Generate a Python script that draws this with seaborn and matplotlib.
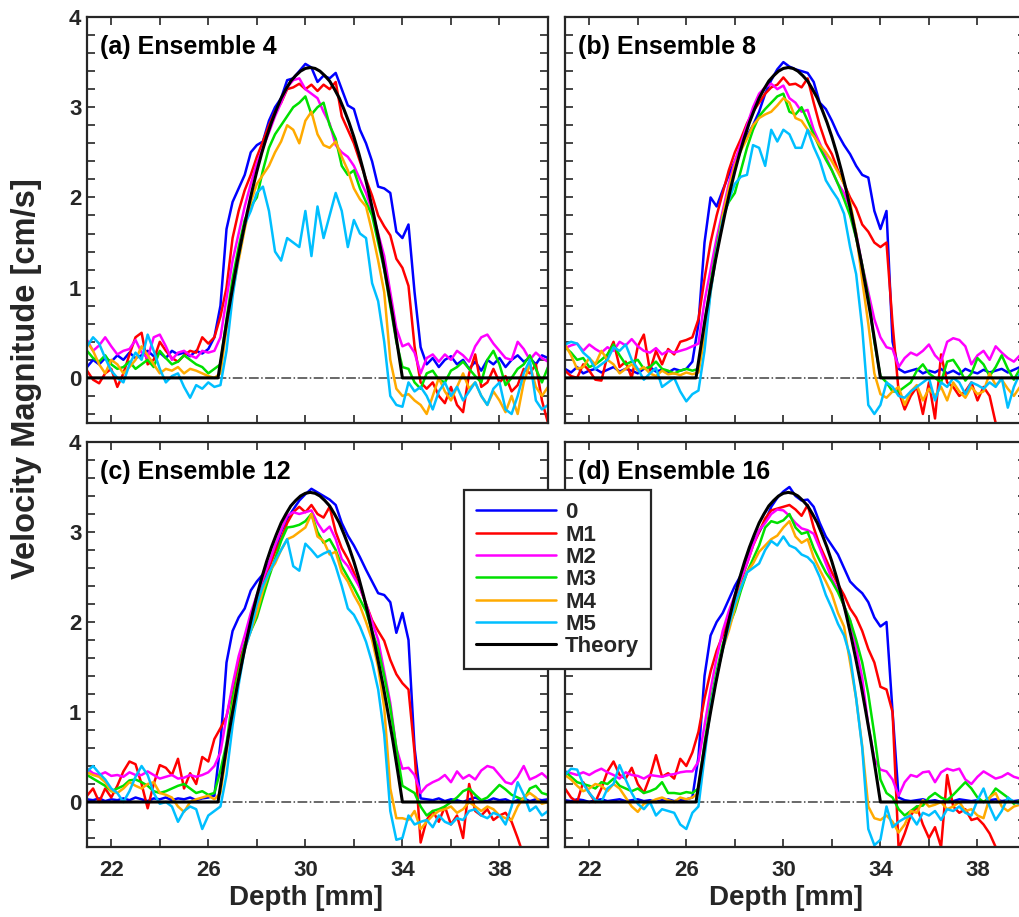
import matplotlib
matplotlib.use("Agg")
import matplotlib.pyplot as plt
from matplotlib.lines import Line2D
from matplotlib.ticker import FixedLocator, MultipleLocator
import numpy as np
import pandas as pd
import seaborn as sns

# ---------------- data ----------------
depth = [21.0, 21.25, 21.5, 21.75, 22.0, 22.25, 22.5, 22.75, 23.0, 23.25, 23.5, 23.75,
         24.0, 24.25, 24.5, 24.75, 25.0, 25.25, 25.5, 25.75, 26.0,
         26.25, 26.5, 26.75, 27.0, 27.25, 27.5, 27.75, 28.0, 28.25, 28.5, 28.75, 29.0,
         29.25, 29.5, 29.75, 30.0, 30.25, 30.5, 30.75, 31.0, 31.25, 31.5, 31.75, 32.0,
         32.25, 32.5, 32.75, 33.0, 33.25, 33.5, 33.75, 34.0,
         34.25, 34.5, 34.75, 35.0, 35.25, 35.5, 35.75, 36.0, 36.25, 36.5, 36.75, 37.0,
         37.25, 37.5, 37.75, 38.0, 38.25, 38.5, 38.75, 39.0, 39.25, 39.5, 39.75, 40.0]

theory_depth = [21.0, 26.4, 26.6, 26.8, 27.0, 27.2, 27.4, 27.6, 27.8, 28.0, 28.2, 28.4, 28.6,
                28.8, 29.0, 29.2, 29.4, 29.6, 29.8, 30.0, 30.2, 30.4, 30.6, 30.8, 31.0, 31.2,
                31.4, 31.6, 31.8, 32.0, 32.2, 32.4, 32.6, 32.8, 33.0, 33.2, 33.4, 33.6, 33.8,
                34.0, 40.0]
theory_vel = [0.0, 0.0, 0.35, 0.69, 1.00, 1.30, 1.57, 1.83, 2.07, 2.29, 2.49, 2.67, 2.83,
              2.97, 3.10, 3.20, 3.29, 3.35, 3.40, 3.43, 3.44, 3.43, 3.40, 3.35, 3.29, 3.20,
              3.10, 2.97, 2.83, 2.67, 2.49, 2.29, 2.07, 1.83, 1.57, 1.30, 1.00, 0.69, 0.35,
              0.0, 0.0]

methods = ["0", "M1", "M2", "M3", "M4", "M5"]
colors = ["#0000FF", "#FF0000", "#FF00FF", "#00E000", "#FFAA00", "#00BFFF"]
titles = ["(a) Ensemble 4", "(b) Ensemble 8", "(c) Ensemble 12", "(d) Ensemble 16"]

# ---- Ensemble 4 ----
A_0 = [0.12, 0.20, 0.15, 0.22, 0.18, 0.25, 0.20, 0.28, 0.22, 0.25, 0.30, 0.24, 0.28, 0.22, 0.30, 0.26, 0.28, 0.24, 0.30, 0.27, 0.32,
       0.45, 0.80, 1.65, 1.95, 2.10, 2.25, 2.50, 2.58, 2.62, 2.85, 3.00, 3.10, 3.30, 3.32, 3.40, 3.48, 3.44, 3.28, 3.35, 3.32,
       3.38, 3.20, 3.02, 2.98, 2.75, 2.60, 2.40, 2.12, 2.10, 2.05, 1.62, 1.55,
       1.70, 0.95, 0.34, 0.15, 0.22, 0.12, 0.20, 0.24, 0.15, 0.20, 0.10, 0.18, 0.08, 0.20, 0.15, 0.22, 0.12, 0.20, 0.25, 0.18, 0.22, 0.15, 0.25, 0.22]
A_M1 = [0.08, -0.02, -0.06, 0.05, 0.10, -0.10, 0.05, 0.26, 0.45, 0.50, 0.15, 0.20, 0.40, 0.30, 0.22, 0.18, 0.25, 0.30, 0.28, 0.45, 0.38,
        0.45, 0.68, 1.00, 1.55, 1.85, 2.08, 2.25, 2.45, 2.62, 2.80, 2.95, 3.05, 3.20, 3.22, 3.26, 3.20, 3.25, 3.18, 3.25, 3.20,
        3.28, 2.90, 2.75, 2.60, 2.40, 2.20, 2.02, 1.80, 1.68, 1.58, 1.32, 1.22,
        1.02, 0.35, -0.05, -0.12, -0.05, -0.20, -0.28, -0.10, -0.30, -0.38, 0.05, 0.26, -0.10, -0.05, 0.10, -0.05, 0.02, -0.15, -0.08, 0.10, 0.05, 0.15, -0.25, -0.50]
A_M2 = [0.42, 0.30, 0.36, 0.45, 0.35, 0.26, 0.30, 0.32, 0.42, 0.28, 0.22, 0.45, 0.48, 0.35, 0.20, 0.28, 0.30, 0.25, 0.22, 0.30, 0.28,
        0.30, 0.45, 0.88, 1.30, 1.60, 1.90, 2.15, 2.38, 2.55, 2.72, 2.90, 3.05, 3.22, 3.30, 3.32, 3.20, 3.15, 3.10, 2.95, 2.82,
        2.58, 2.50, 2.45, 2.35, 2.20, 2.05, 1.85, 1.60, 1.35, 0.95, 0.55, 0.35,
        0.38, 0.28, 0.05, 0.22, 0.26, 0.18, 0.26, 0.20, 0.30, 0.25, 0.18, 0.35, 0.45, 0.48, 0.38, 0.30, 0.22, 0.20, 0.40, 0.32, 0.20, 0.28, 0.22, 0.18]
A_M3 = [0.30, 0.22, 0.18, 0.25, 0.15, 0.10, 0.12, 0.18, 0.10, 0.15, 0.20, 0.12, 0.30, 0.22, 0.15, 0.18, 0.25, 0.20, 0.15, 0.12, 0.05,
        0.10, 0.15, 0.65, 1.10, 1.45, 1.75, 1.90, 2.00, 2.30, 2.55, 2.70, 2.80, 2.90, 3.00, 3.05, 3.12, 2.92, 3.00, 3.05, 2.80,
        2.65, 2.35, 2.25, 2.30, 2.10, 1.95, 1.80, 1.50, 1.20, 0.80, 0.40, 0.12,
        0.10, -0.05, -0.12, 0.05, 0.08, -0.02, -0.05, 0.08, 0.12, 0.18, 0.10, 0.02, -0.05, 0.20, 0.30, 0.15, -0.08, 0.00, 0.10, 0.15, 0.25, 0.10, -0.05, 0.12]
A_M4 = [0.40, 0.30, 0.15, 0.05, 0.20, 0.15, 0.05, 0.12, 0.20, 0.35, 0.25, 0.15, 0.05, 0.10, 0.08, 0.12, 0.05, 0.10, 0.08, 0.05, 0.02,
        0.00, 0.05, 0.55, 0.95, 1.30, 1.65, 1.95, 2.15, 2.25, 2.35, 2.50, 2.62, 2.80, 2.75, 2.60, 2.85, 2.95, 2.70, 2.58, 2.55,
        2.62, 2.45, 2.30, 2.10, 1.98, 1.90, 1.62, 1.30, 0.95, 0.20, -0.12, -0.20,
        -0.18, -0.25, -0.30, -0.40, -0.20, 0.00, -0.15, -0.25, -0.10, 0.05, -0.12, -0.05, -0.20, -0.30, -0.15, -0.25, -0.38, -0.20, -0.40, -0.05, 0.15, -0.10, -0.20, -0.10]
A_M5 = [0.35, 0.45, 0.38, 0.22, 0.08, 0.00, -0.05, 0.15, 0.28, 0.20, 0.48, 0.30, 0.10, -0.05, 0.02, 0.05, -0.10, -0.22, -0.08, -0.12, -0.05,
        -0.10, -0.08, 0.30, 0.90, 1.35, 1.70, 1.85, 2.05, 2.12, 1.85, 1.40, 1.30, 1.55, 1.50, 1.45, 1.85, 1.35, 1.90, 1.55, 1.80,
        2.05, 1.85, 1.45, 1.75, 1.60, 1.55, 1.05, 0.85, 0.40, -0.20, -0.30, -0.32,
        -0.05, -0.15, -0.10, -0.20, -0.35, -0.15, -0.05, -0.20, -0.10, -0.25, -0.15, -0.05, -0.20, -0.30, -0.12, -0.05, -0.35, -0.40, -0.20, 0.05, 0.20, -0.25, -0.35, -0.30]

# ---- Ensemble 8 ----
B_0 = [0.10, 0.06, 0.12, 0.05, 0.08, 0.10, 0.06, 0.09, 0.12, 0.07, 0.10, 0.08, 0.05, 0.10, 0.12, 0.07, 0.09, 0.06, 0.10, 0.08, 0.10,
       0.18, 0.60, 1.50, 2.00, 1.90, 2.08, 2.25, 2.40, 2.56, 2.68, 2.80, 2.95, 3.15, 3.30, 3.42, 3.50, 3.45, 3.42, 3.40, 3.38,
       3.28, 3.05, 2.98, 2.85, 2.70, 2.58, 2.48, 2.35, 2.25, 2.22, 1.85, 1.65,
       1.85, 0.40, 0.10, 0.06, 0.08, 0.10, 0.05, 0.08, 0.06, 0.10, 0.05, 0.08, 0.04, 0.10, 0.07, 0.05, 0.09, 0.06, 0.08, 0.10, 0.06, 0.09, 0.12, 0.08]
B_M1 = [0.08, 0.02, 0.00, 0.15, 0.08, -0.02, -0.03, 0.25, 0.40, 0.12, 0.18, 0.00, 0.35, 0.48, 0.08, 0.30, 0.15, 0.32, 0.26, 0.40, 0.42,
        0.45, 0.65, 1.10, 1.50, 1.80, 2.05, 2.30, 2.50, 2.65, 2.82, 2.95, 3.05, 3.15, 3.22, 3.25, 3.33, 3.25, 3.26, 3.22, 3.32,
        3.05, 2.80, 2.60, 2.48, 2.30, 2.15, 2.00, 1.88, 1.70, 1.62, 1.50, 1.45,
        1.50, 0.60, -0.15, -0.35, -0.20, -0.10, -0.40, -0.05, -0.45, 0.26, -0.05, -0.10, -0.20, -0.15, -0.05, -0.25, -0.10, -0.20, -0.50, -0.55, -0.60, -0.60, -0.60, -0.60]
B_M2 = [0.33, 0.36, 0.38, 0.30, 0.37, 0.32, 0.28, 0.34, 0.30, 0.40, 0.36, 0.43, 0.35, 0.30, 0.28, 0.33, 0.26, 0.30, 0.28, 0.30, 0.32,
        0.35, 0.38, 0.85, 1.20, 1.55, 1.85, 2.15, 2.40, 2.60, 2.80, 3.00, 3.15, 3.22, 3.26, 3.20, 3.24, 3.10, 3.05, 2.95, 2.97,
        2.75, 2.60, 2.45, 2.30, 2.15, 2.05, 1.88, 1.60, 1.25, 0.95, 0.65, 0.45,
        0.34, 0.32, 0.12, 0.22, 0.28, 0.25, 0.30, 0.37, 0.25, 0.18, 0.40, 0.44, 0.42, 0.35, 0.15, 0.25, 0.30, 0.20, 0.35, 0.28, 0.22, 0.18, 0.25, 0.22]
B_M3 = [0.34, 0.28, 0.20, 0.22, 0.12, 0.15, 0.20, 0.26, 0.37, 0.25, 0.15, 0.18, 0.20, 0.10, 0.12, 0.18, 0.10, 0.08, 0.05, 0.08, 0.10,
        0.08, 0.10, 0.60, 1.05, 1.45, 1.80, 1.95, 2.05, 2.30, 2.55, 2.75, 2.90, 2.98, 3.05, 3.12, 3.15, 2.95, 2.92, 3.00, 2.85,
        2.70, 2.55, 2.42, 2.30, 2.15, 1.98, 1.80, 1.55, 1.25, 0.90, 0.40, 0.02,
        -0.05, -0.15, -0.15, -0.10, -0.05, 0.08, 0.15, 0.05, 0.00, -0.05, 0.18, 0.20, 0.10, -0.03, 0.05, 0.22, 0.15, 0.02, 0.12, 0.25, 0.10, -0.02, 0.10, 0.15]
B_M4 = [0.37, 0.25, 0.10, 0.12, 0.22, 0.15, 0.30, 0.20, 0.15, 0.05, 0.10, 0.15, 0.08, 0.12, 0.05, 0.02, 0.08, 0.04, 0.05, 0.03, 0.06,
        0.04, 0.06, 0.45, 0.95, 1.40, 1.80, 2.10, 2.35, 2.52, 2.65, 2.80, 2.88, 2.92, 2.95, 3.02, 3.10, 3.05, 2.88, 2.85, 2.75,
        2.68, 2.58, 2.50, 2.40, 2.28, 2.15, 1.95, 1.60, 1.08, 0.60, 0.05, -0.18,
        -0.22, -0.15, -0.10, -0.30, -0.15, -0.08, -0.25, -0.12, -0.20, -0.10, -0.25, -0.05, -0.15, -0.22, -0.10, -0.18, -0.15, 0.05, -0.08, -0.02, -0.12, -0.20, -0.10, 0.00]
B_M5 = [0.37, 0.40, 0.38, 0.28, 0.22, 0.10, 0.15, 0.20, 0.34, 0.30, 0.37, 0.20, 0.10, -0.02, 0.05, 0.11, -0.10, -0.05, 0.00, -0.15, -0.26,
        -0.18, -0.14, 0.30, 0.95, 1.40, 1.75, 1.97, 2.15, 2.23, 2.25, 2.58, 2.55, 2.35, 2.75, 2.62, 2.75, 2.70, 2.55, 2.55, 2.75,
        2.56, 2.41, 2.19, 2.08, 1.98, 1.82, 1.45, 1.15, 0.55, -0.30, -0.40, -0.30,
        -0.05, -0.10, -0.20, -0.22, -0.15, -0.10, -0.05, 0.00, -0.25, -0.05, -0.10, 0.00, -0.05, -0.18, -0.05, -0.08, -0.12, -0.05, -0.10, 0.00, -0.33, -0.10, 0.05, -0.05]

# ---- Ensemble 12 ----
C_0 = [0.03, 0.02, 0.04, 0.01, 0.03, 0.02, 0.04, 0.02, 0.05, 0.03, 0.01, 0.04, 0.03, 0.05, 0.02, 0.04, 0.03, 0.05, 0.02, 0.04, 0.05,
       0.07, 0.65, 1.55, 1.90, 2.05, 2.15, 2.35, 2.45, 2.53, 2.65, 2.80, 3.00, 3.15, 3.25, 3.35, 3.42, 3.48, 3.44, 3.40, 3.36,
       3.30, 3.10, 2.96, 2.85, 2.72, 2.58, 2.45, 2.32, 2.30, 2.22, 1.88, 2.10,
       1.80, 0.60, 0.04, 0.03, 0.02, 0.04, 0.01, 0.03, 0.02, 0.00, 0.03, 0.05, 0.02, 0.01, 0.04, 0.02, 0.03, 0.00, 0.02, 0.04, 0.01, 0.03, 0.02, 0.03]
C_M1 = [0.07, 0.15, 0.00, 0.15, 0.05, 0.18, 0.34, 0.45, 0.42, 0.20, -0.07, 0.20, 0.41, 0.38, 0.30, 0.48, 0.15, 0.32, 0.20, 0.50, 0.45,
        0.70, 0.82, 0.95, 1.25, 1.55, 1.75, 2.00, 2.20, 2.42, 2.60, 2.78, 2.92, 3.10, 3.22, 3.28, 3.22, 3.30, 3.20, 3.16, 3.28,
        3.00, 2.82, 2.70, 2.55, 2.38, 2.20, 2.02, 1.90, 1.79, 1.58, 1.42, 1.32,
        1.25, 0.55, -0.45, -0.20, -0.10, -0.22, -0.05, -0.25, -0.15, -0.40, 0.20, -0.10, -0.15, -0.08, -0.20, -0.15, -0.12, -0.22, -0.40, -0.60, -0.60, -0.60, -0.60, -0.60]
C_M2 = [0.37, 0.32, 0.30, 0.33, 0.29, 0.30, 0.28, 0.33, 0.30, 0.30, 0.34, 0.30, 0.26, 0.28, 0.30, 0.26, 0.27, 0.30, 0.28, 0.30, 0.33,
        0.40, 0.55, 0.95, 1.30, 1.62, 1.85, 2.10, 2.30, 2.48, 2.65, 2.85, 3.02, 3.18, 3.22, 3.20, 3.22, 3.24, 3.10, 3.00, 3.06,
        2.92, 2.70, 2.62, 2.50, 2.38, 2.20, 2.00, 1.80, 1.45, 1.10, 0.60, 0.37,
        0.38, 0.30, 0.10, 0.18, 0.22, 0.25, 0.30, 0.22, 0.34, 0.26, 0.30, 0.25, 0.35, 0.40, 0.38, 0.30, 0.22, 0.20, 0.28, 0.40, 0.25, 0.28, 0.32, 0.26]
C_M3 = [0.30, 0.26, 0.22, 0.18, 0.12, 0.15, 0.18, 0.24, 0.25, 0.22, 0.18, 0.12, 0.10, 0.12, 0.15, 0.18, 0.20, 0.15, 0.10, 0.12, 0.08,
        0.10, 0.35, 0.65, 1.15, 1.45, 1.75, 1.90, 2.05, 2.28, 2.50, 2.70, 2.90, 3.05, 3.06, 3.08, 3.12, 3.20, 3.00, 2.88, 2.92,
        2.80, 2.62, 2.50, 2.38, 2.25, 2.12, 1.90, 1.70, 1.40, 1.05, 0.60, 0.18,
        0.14, 0.10, -0.05, -0.15, -0.10, -0.08, -0.05, 0.00, 0.05, 0.12, 0.15, 0.08, 0.02, 0.05, 0.12, 0.19, 0.14, 0.08, 0.05, 0.02, 0.15, 0.18, 0.10, 0.08]
C_M4 = [0.33, 0.30, 0.28, 0.22, 0.12, 0.10, 0.15, 0.22, 0.18, 0.15, 0.20, 0.22, 0.10, 0.08, 0.05, -0.05, -0.11, 0.00, 0.03, 0.05, 0.07,
        0.03, 0.10, 0.55, 1.05, 1.40, 1.70, 1.90, 2.10, 2.35, 2.55, 2.65, 2.80, 2.92, 2.95, 3.00, 3.05, 3.20, 2.95, 2.90, 2.75,
        2.78, 2.55, 2.45, 2.30, 2.18, 2.00, 1.80, 1.50, 1.05, 0.15, -0.18, -0.18,
        -0.20, -0.10, -0.30, -0.22, -0.15, -0.10, -0.08, -0.05, -0.12, -0.08, 0.00, -0.05, -0.10, -0.05, -0.08, -0.15, -0.18, -0.20, -0.05, 0.05, 0.10, 0.05, -0.02, 0.00]
C_M5 = [0.34, 0.40, 0.32, 0.25, 0.15, 0.10, 0.00, 0.12, 0.28, 0.40, 0.30, 0.10, -0.02, 0.00, -0.05, -0.22, -0.10, -0.05, -0.08, -0.30, -0.15,
        -0.10, -0.05, 0.30, 0.85, 1.30, 1.70, 1.90, 2.20, 2.40, 2.55, 2.68, 2.80, 2.92, 2.62, 2.57, 2.87, 2.80, 2.72, 2.76, 2.79,
        2.62, 2.40, 2.15, 2.08, 1.95, 1.78, 1.55, 1.25, 0.75, -0.10, -0.42, -0.40,
        -0.15, -0.25, -0.22, -0.20, -0.28, -0.15, -0.22, -0.25, -0.18, -0.20, -0.10, -0.08, -0.15, -0.18, -0.12, -0.15, -0.25, -0.05, 0.22, 0.08, -0.10, -0.05, -0.15, -0.10]

# ---- Ensemble 16 ----
D_0 = [0.02, 0.01, 0.03, 0.02, 0.00, 0.02, 0.03, 0.01, 0.02, 0.03, 0.01, 0.02, 0.03, 0.01, 0.02, 0.00, 0.02, 0.03, 0.01, 0.02, 0.03,
       0.05, 0.50, 1.40, 1.85, 2.00, 2.10, 2.25, 2.40, 2.52, 2.72, 2.88, 3.00, 3.12, 3.28, 3.38, 3.45, 3.50, 3.40, 3.35, 3.36,
       3.28, 3.10, 2.95, 2.85, 2.75, 2.60, 2.45, 2.38, 2.32, 2.22, 2.05, 1.95,
       2.00, 1.00, 0.05, 0.02, 0.01, 0.02, 0.03, 0.01, 0.02, 0.00, 0.02, 0.01, 0.03, 0.02, 0.01, 0.02, 0.00, 0.02, 0.03, 0.01, 0.02, 0.01, 0.02, 0.03]
D_M1 = [0.15, 0.05, 0.00, 0.22, 0.10, 0.00, 0.15, 0.34, 0.45, 0.30, 0.26, 0.38, 0.20, 0.10, 0.28, 0.52, 0.28, 0.32, 0.26, 0.48, 0.40,
        0.55, 0.78, 1.15, 1.45, 1.68, 1.85, 2.05, 2.20, 2.45, 2.65, 2.85, 3.00, 3.15, 3.24, 3.26, 3.28, 3.30, 3.25, 3.18, 3.30,
        3.05, 2.85, 2.70, 2.55, 2.42, 2.30, 2.15, 2.05, 1.90, 1.70, 1.55, 1.28,
        1.25, 1.00, -0.52, -0.35, -0.15, -0.05, -0.25, -0.40, -0.28, -0.50, 0.30, -0.05, -0.12, -0.08, -0.20, -0.18, -0.25, -0.35, -0.50, -0.62, -0.65, -0.65, -0.65, -0.65]
D_M2 = [0.34, 0.32, 0.30, 0.33, 0.30, 0.34, 0.37, 0.33, 0.30, 0.26, 0.33, 0.30, 0.29, 0.26, 0.30, 0.29, 0.28, 0.30, 0.31, 0.33, 0.34,
        0.34, 0.45, 0.85, 1.25, 1.60, 1.90, 2.12, 2.30, 2.48, 2.65, 2.85, 3.02, 3.10, 3.20, 3.25, 3.24, 3.18, 3.10, 3.04, 3.02,
        2.98, 2.82, 2.65, 2.48, 2.36, 2.18, 2.02, 1.71, 1.38, 0.85, 0.48, 0.36,
        0.34, 0.25, 0.07, 0.22, 0.30, 0.28, 0.33, 0.34, 0.22, 0.33, 0.37, 0.35, 0.37, 0.25, 0.20, 0.28, 0.34, 0.30, 0.26, 0.28, 0.32, 0.28, 0.26, 0.30]
D_M3 = [0.34, 0.28, 0.22, 0.20, 0.18, 0.15, 0.22, 0.20, 0.26, 0.18, 0.15, 0.12, 0.15, 0.10, 0.12, 0.15, 0.22, 0.10, 0.10, 0.09, 0.11,
        0.10, 0.15, 0.65, 1.10, 1.45, 1.75, 1.95, 2.12, 2.35, 2.55, 2.70, 2.85, 3.05, 3.12, 3.10, 3.13, 3.20, 3.05, 2.98, 3.00,
        2.82, 2.68, 2.55, 2.45, 2.33, 2.18, 2.02, 1.80, 1.55, 1.20, 0.75, 0.25,
        0.10, 0.05, -0.08, -0.15, -0.10, -0.05, -0.04, 0.05, 0.10, 0.05, 0.02, 0.08, 0.15, 0.22, 0.15, 0.05, 0.00, 0.05, 0.15, 0.10, 0.05, -0.02, 0.02, 0.05]
D_M4 = [0.30, 0.25, 0.18, 0.12, 0.15, 0.20, 0.18, 0.12, 0.20, 0.15, 0.05, -0.05, -0.11, -0.02, 0.00, 0.03, 0.05, 0.02, 0.00, 0.05, 0.03,
        0.05, 0.10, 0.55, 1.05, 1.40, 1.70, 1.90, 2.15, 2.40, 2.55, 2.65, 2.78, 2.85, 2.92, 2.96, 3.05, 3.12, 2.95, 2.88, 2.92,
        2.72, 2.58, 2.45, 2.31, 2.10, 1.95, 1.55, 1.15, 0.62, -0.05, -0.18, -0.20,
        -0.15, -0.22, -0.34, -0.25, -0.10, -0.12, 0.02, -0.05, -0.03, 0.00, -0.08, -0.05, 0.00, -0.10, -0.08, -0.15, -0.18, 0.05, 0.10, -0.05, -0.10, -0.05, -0.03, -0.05]
D_M5 = [0.30, 0.37, 0.36, 0.20, 0.10, 0.02, 0.00, 0.15, 0.20, 0.41, 0.25, 0.10, -0.02, -0.08, 0.00, -0.15, -0.08, -0.10, -0.12, -0.25, -0.30,
        -0.12, -0.05, 0.50, 1.05, 1.40, 1.70, 1.95, 2.20, 2.38, 2.55, 2.60, 2.65, 2.80, 2.90, 2.85, 2.95, 2.85, 2.82, 2.75, 2.72,
        2.65, 2.50, 2.30, 2.15, 1.98, 1.85, 1.62, 1.15, 0.60, -0.30, -0.48, -0.42,
        -0.05, -0.28, -0.22, -0.18, -0.15, -0.25, -0.12, -0.15, -0.10, -0.20, -0.08, -0.10, -0.05, -0.12, -0.15, 0.02, 0.15, -0.05, -0.20, -0.10, 0.05, 0.00, -0.02, 0.00]

panel_series = [
    [A_0, A_M1, A_M2, A_M3, A_M4, A_M5],
    [B_0, B_M1, B_M2, B_M3, B_M4, B_M5],
    [C_0, C_M1, C_M2, C_M3, C_M4, C_M5],
    [D_0, D_M1, D_M2, D_M3, D_M4, D_M5],
]

# ---------------- style ----------------
sns.set_theme(style="ticks")
plt.rcParams["font.family"] = ["Liberation Sans", "DejaVu Sans"]
plt.rcParams["font.weight"] = "bold"
DARK = "#262626"
LW = 1.8
LW_T = 2.2

W, H = 1019, 917
fig = plt.figure(figsize=(W / 100, H / 100), dpi=100)

def rect(l, t, r, b):
    return [l / W, 1 - b / H, (r - l) / W, (b - t) / H]

rects = [rect(87, 17, 548, 423), rect(565, 17, 1026, 423),
         rect(87, 442, 548, 847), rect(565, 442, 1026, 847)]

for i, (series, title, r) in enumerate(zip(panel_series, titles, rects)):
    ax = fig.add_axes(r)
    rows = []
    for m, vals in zip(methods, series):
        assert len(vals) == len(depth), (title, m, len(vals))
        for d, v in zip(depth, vals):
            rows.append((d, v, m))
    df = pd.DataFrame(rows, columns=["Depth", "Velocity", "Method"])
    ax.axhline(0, color="#404040", lw=1.1, ls="-.", zorder=1)
    sns.lineplot(data=df, x="Depth", y="Velocity", hue="Method", hue_order=methods,
                 palette=colors, estimator=None, sort=False, lw=LW, legend=False,
                 ax=ax, zorder=2)
    sns.lineplot(x=theory_depth, y=theory_vel, color="black", lw=LW_T,
                 estimator=None, sort=False, ax=ax, zorder=3)
    ax.set_xlim(21, 40)
    ax.set_ylim(-0.5, 4)
    ax.set_xlabel("")
    ax.set_ylabel("")
    ax.xaxis.set_major_locator(FixedLocator([22, 26, 30, 34, 38]))
    ax.xaxis.set_minor_locator(MultipleLocator(2))
    ax.yaxis.set_major_locator(MultipleLocator(1))
    ax.yaxis.set_minor_locator(MultipleLocator(0.2))
    ax.tick_params(which="both", direction="in", top=True, right=True,
                   length=5.5, width=1.2, color=DARK, labelcolor=DARK,
                   labelsize=16)
    ax.tick_params(axis="x", which="both", pad=9)
    ax.tick_params(axis="y", which="both", pad=4)
    for s in ax.spines.values():
        s.set_linewidth(1.6)
        s.set_color(DARK)
        s.set_visible(True)
    ax.tick_params(labelbottom=(i >= 2), labelleft=(i % 2 == 0))
    ax.text(0.028, 0.925, title, transform=ax.transAxes, fontsize=18,
            fontweight="bold", ha="left", va="center", color="black")

fig.text(27 / W, 1 - 379 / H, "Velocity Magnitude [cm/s]", rotation=90,
         ha="center", va="center", fontsize=23.5, fontweight="bold", color=DARK)
fig.text(306 / W, 1 - 905 / H, "Depth [mm]", ha="center", va="baseline",
         fontsize=20, fontweight="bold", color=DARK)
fig.text(786 / W, 1 - 905 / H, "Depth [mm]", ha="center", va="baseline",
         fontsize=20, fontweight="bold", color=DARK)

handles = [Line2D([0], [0], color=c, lw=LW) for c in colors]
handles.append(Line2D([0], [0], color="black", lw=LW_T))
labels = methods + ["Theory"]
leg = fig.legend(handles, labels, loc="upper left",
                 bbox_to_anchor=(464 / W, 1 - 490 / H), frameon=True,
                 fancybox=False, framealpha=1, edgecolor=DARK, facecolor="white",
                 fontsize=16, handlelength=3.6, handletextpad=0.4,
                 labelspacing=0.06, borderpad=0.55, borderaxespad=0)
leg.get_frame().set_linewidth(1.6)
for t in leg.get_texts():
    t.set_fontweight("bold")

fig.savefig("out.png", dpi=100)
